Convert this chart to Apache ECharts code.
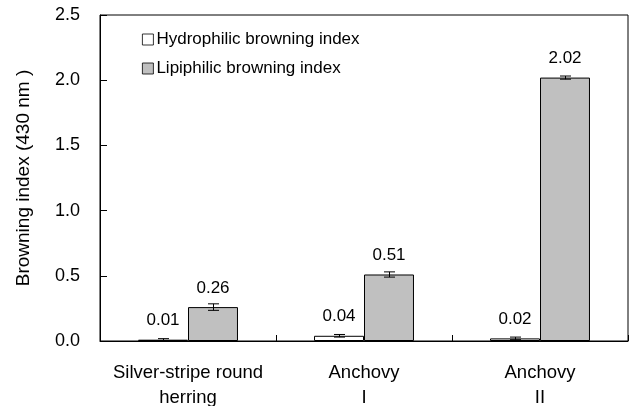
<!DOCTYPE html>
<html>
<head>
<meta charset="utf-8">
<script src="https://cdn.jsdelivr.net/npm/echarts@6/dist/echarts.min.js"></script>
<style>html,body{margin:0;padding:0;background:#fff}#c{width:632px;height:406px}</style>
</head>
<body>
<div id="c"></div>
<script>
const categories = ['Silver-stripe round\nherring', 'Anchovy\nI', 'Anchovy\nII'];
const hydroValues = [0.01, 0.04, 0.02];
const hydroErrors = [0.008, 0.01, 0.01];
const lipoValues = [0.26, 0.51, 2.02];
const lipoErrors = [0.025, 0.02, 0.012];
const yTicks = [0, 0.5, 1.0, 1.5, 2.0, 2.5];

const FONT = 'Liberation Sans, Arial, sans-serif';
const chart = echarts.init(document.getElementById('c'));

function errSeries(values, errors, side) {
  return {
    type: 'custom',
    z: 10,
    silent: true,
    data: values.map((v, i) => [i, v, errors[i]]),
    renderItem: function (params, api) {
      const i = api.value(0), v = api.value(1), e = api.value(2);
      const band = api.size([1, 0])[0];
      const off = side * band * 0.142;
      const top = api.coord([i, v + e]);
      const bot = api.coord([i, Math.max(0, v - e)]);
      const x = Math.round(top[0] + off) + 0.5;
      const cap = 5.5;
      const st = { stroke: '#000', lineWidth: 1 };
      return {
        type: 'group',
        children: [
          { type: 'line', shape: { x1: x, y1: top[1], x2: x, y2: bot[1] }, style: st },
          { type: 'line', shape: { x1: x - cap, y1: top[1], x2: x + cap, y2: top[1] }, style: st },
          { type: 'line', shape: { x1: x - cap, y1: bot[1], x2: x + cap, y2: bot[1] }, style: st }
        ]
      };
    }
  };
}

const labelCfg = { show: true, position: 'top', distance: 10.5, color: '#000', fontSize: 17, fontFamily: FONT, formatter: p => p.value.toFixed(2) };

chart.setOption({
  animation: false,
  textStyle: { fontFamily: FONT },
  grid: { left: 100, right: 4, top: 15, bottom: 65, containLabel: false, outerBoundsMode: 'none', show: true, borderColor: '#000', borderWidth: 1 },
  legend: {
    orient: 'vertical',
    left: 137,
    top: 26,
    itemWidth: 11,
    itemHeight: 11,
    itemGap: 12,
    icon: 'rect',
    itemStyle: { borderWidth: 0.8 },
    textStyle: { fontFamily: FONT, fontSize: 17, lineHeight: 17, color: '#000', padding: [0, 0, 0, -2] },
    data: ['Hydrophilic browning index', 'Lipiphilic browning index']
  },
  xAxis: {
    type: 'category',
    data: categories,
    axisLine: { lineStyle: { color: '#000', width: 1 } },
    axisTick: { show: true, inside: true, length: 6, alignWithLabel: false, lineStyle: { color: '#000' } },
    axisLabel: { color: '#000', fontSize: 18.5, fontFamily: FONT, margin: 19, lineHeight: 25, interval: 0 }
  },
  yAxis: {
    type: 'value',
    min: 0,
    max: 2.5,
    interval: 0.5,
    name: 'Browning index (430 nm )',
    nameLocation: 'middle',
    nameGap: 67,
    nameTextStyle: { color: '#000', fontSize: 19, fontFamily: FONT },
    axisLine: { show: true, lineStyle: { color: '#000', width: 1 } },
    axisTick: { show: true, inside: true, length: 7, lineStyle: { color: '#000' } },
    splitLine: { show: false },
    axisLabel: {
      color: '#000', fontSize: 18, fontFamily: FONT, margin: 20,
      formatter: v => yTicks.includes(v) ? v.toFixed(1) : ''
    }
  },
  series: [
    {
      name: 'Hydrophilic browning index',
      type: 'bar',
      data: hydroValues,
      barWidth: '28.4%',
      barGap: '0%',
      itemStyle: { color: '#ffffff', borderColor: '#000', borderWidth: 1 },
      label: labelCfg
    },
    {
      name: 'Lipiphilic browning index',
      type: 'bar',
      data: lipoValues,
      barWidth: '28.4%',
      barGap: '0%',
      itemStyle: { color: '#c0c0c0', borderColor: '#000', borderWidth: 1 },
      label: labelCfg
    },
    errSeries(hydroValues, hydroErrors, -1),
    errSeries(lipoValues, lipoErrors, 1)
  ]
});
</script>
</body>
</html>
